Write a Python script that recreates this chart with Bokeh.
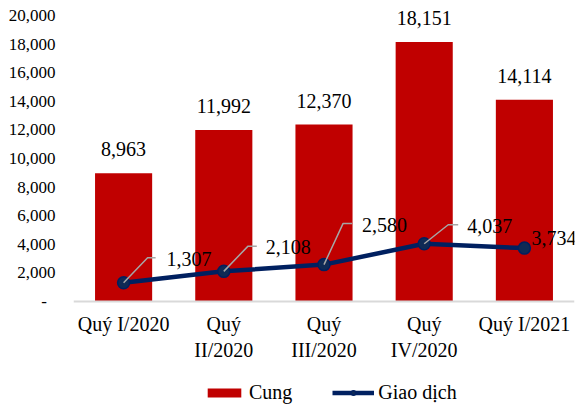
from bokeh.plotting import figure
from bokeh.models import Range1d, FixedTicker, Legend, LegendItem, ColumnDataSource
from bokeh.embed import file_html
from bokeh.resources import INLINE
from bokeh.core.properties import value

# ---- data ----
categories = ["Quý I/2020", "Quý\nII/2020", "Quý\nIII/2020", "Quý\nIV/2020", "Quý I/2021"]
cung = [8963, 11992, 12370, 18151, 14114]
giao_dich = [1307, 2108, 2580, 4037, 3734]
y_ticks = [0, 2000, 4000, 6000, 8000, 10000, 12000, 14000, 16000, 18000, 20000]

# ---- layout ----
W, H = 586, 409
BORDER_L, BORDER_R, BORDER_T = 73, 12, 0
FRAME_W = W - BORDER_L - BORDER_R
PX_PER_UNIT = 0.0143          # vertical scale (px per unit)
ZERO_PX = 301                 # canvas row of the zero line
Y_END = (ZERO_PX - BORDER_T) / PX_PER_UNIT
Y_START = -(H - ZERO_PX) / PX_PER_UNIT
leader_dx = [24, 24, 19, 24, 0]
leader_dy = [25, 25, 41, 19, 0]
leader_h = [8, 9, 9, 10, 0]
label_dx = [43, 42, 38, 43, 7]
label_dy = [24, 24, 40, 18, 10]

FONT = "Liberation Serif"
px_x = FRAME_W / 5.0
px_y = PX_PER_UNIT

xs = list(range(len(categories)))

p = figure(width=W, height=H, output_backend="svg",
           toolbar_location=None, x_range=Range1d(-0.5, 4.5),
           y_range=Range1d(Y_START, Y_END),
           min_border_top=BORDER_T, min_border_left=BORDER_L,
           min_border_right=BORDER_R, min_border_bottom=0)
p.outline_line_color = None
p.xgrid.grid_line_color = None
p.ygrid.grid_line_color = None
p.background_fill_color = "white"
p.border_fill_color = "white"

bar_src = ColumnDataSource(dict(x=xs, top=cung,
                                ly=[v + 17 / px_y for v in cung],
                                txt=[f"{v:,}" for v in cung]))
bars = p.vbar(x="x", top="top", bottom=0, width=0.57, source=bar_src,
              fill_color="#C00000", line_color=None)
p.text(x="x", y="ly", text="txt", source=bar_src, text_align="center",
       text_baseline="bottom", text_font=value(FONT), text_font_size="20px",
       text_color="#000000")

line_src = ColumnDataSource(dict(x=xs, y=giao_dich))
ln = p.line(x="x", y="y", source=line_src, line_color="#002060", line_width=4.5)
pts = p.scatter(x="x", y="y", source=line_src, size=12, marker="circle",
                fill_color="#0F2A55", line_color="#002060", line_width=1.5)

# leader lines
lx, ly = [], []
for i, v in enumerate(giao_dich):
    if leader_dx[i] == 0:
        continue
    x1 = i + leader_dx[i] / px_x
    y1 = v + leader_dy[i] / px_y
    x2 = i + (leader_dx[i] + leader_h[i]) / px_x
    lx.append([i, x1, x2])
    ly.append([v, y1, y1])
p.multi_line(xs=lx, ys=ly, line_color="#A6A6A6", line_width=1.5)

lab_src = ColumnDataSource(dict(
    x=[i + label_dx[i] / px_x for i in xs],
    y=[v + label_dy[i] / px_y for i, v in enumerate(giao_dich)],
    txt=[f"{v:,}" for v in giao_dich]))
p.text(x="x", y="y", text="txt", source=lab_src, text_align="left",
       text_baseline="middle", text_font=value(FONT), text_font_size="20px",
       text_color="#000000")

# axes
p.xaxis.fixed_location = 0
p.xaxis.ticker = FixedTicker(ticks=xs)
p.xaxis.major_label_overrides = {i: c for i, c in enumerate(categories)}
p.xaxis.axis_line_color = "#D9D9D9"
p.xaxis.axis_line_width = 2
p.xaxis.major_tick_line_color = None
p.xaxis.major_tick_out = 0
p.xaxis.major_tick_in = 0
p.xaxis.minor_tick_line_color = None
p.xaxis.major_label_standoff = 11
p.xaxis.major_label_text_font = FONT
p.xaxis.major_label_text_font_size = "20px"
p.xaxis.major_label_text_color = "#000000"

p.yaxis.ticker = FixedTicker(ticks=y_ticks)
ov = {t: f"{t:,}" for t in y_ticks}
ov[0] = "-\u00a0\u00a0"
p.yaxis.major_label_overrides = ov
p.yaxis.axis_line_color = None
p.yaxis.major_tick_line_color = None
p.yaxis.major_tick_out = 0
p.yaxis.major_tick_in = 0
p.yaxis.minor_tick_line_color = None
p.yaxis.major_label_standoff = 18
p.yaxis.major_label_text_font = FONT
p.yaxis.major_label_text_font_size = "17px"
p.yaxis.major_label_text_color = "#000000"

legend = Legend(items=[LegendItem(label="Cung", renderers=[bars]),
                       LegendItem(label="Giao dịch", renderers=[ln, pts])],
                orientation="horizontal", location=(130, 5),
                label_text_font=FONT, label_text_font_size="20px",
                label_text_color="#000000", glyph_width=42, glyph_height=11,
                spacing=40, padding=0, margin=0, border_line_color=None,
                background_fill_alpha=0, label_standoff=4)
p.add_layout(legend, "center")

open("out.html", "w").write(file_html(p, INLINE))
